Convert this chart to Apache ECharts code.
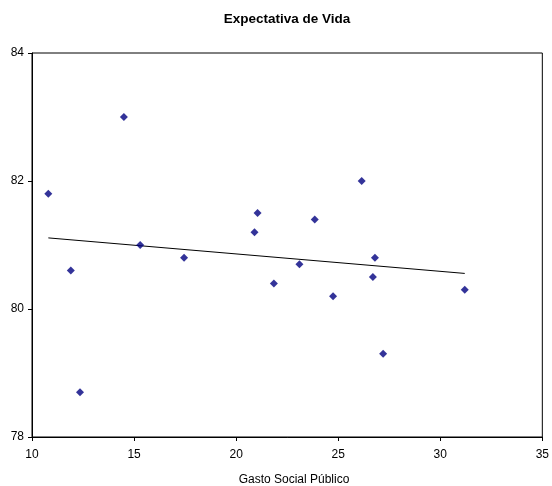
<!DOCTYPE html>
<html>
<head>
<meta charset="utf-8">
<script src="https://cdn.jsdelivr.net/npm/echarts@6/dist/echarts.min.js"></script>
<style>html,body{margin:0;padding:0;background:#fff}#c{width:552px;height:486px}</style>
</head>
<body>
<div id="c"></div>
<script>
var titleText = "Expectativa de Vida";
var xAxisName = "Gasto Social Público";
var gastoSocial = [10.8, 11.9, 12.35, 14.5, 15.3, 17.45, 20.9, 21.05, 21.85, 23.1, 23.85, 24.75, 26.15, 26.7, 26.8, 27.2, 31.2];
var expectativa = [81.8, 80.6, 78.7, 83.0, 81.0, 80.8, 81.2, 81.5, 80.4, 80.7, 81.4, 80.2, 82.0, 80.5, 80.8, 79.3, 80.3];
var xTicks = [10, 15, 20, 25, 30, 35];
var yTicks = [78, 80, 82, 84];

var pts = gastoSocial.map(function(x, i){ return [x, expectativa[i]]; });
// least-squares trendline computed from the data
var n = gastoSocial.length, mx = 0, my = 0;
for (var i = 0; i < n; i++) { mx += gastoSocial[i]; my += expectativa[i]; }
mx /= n; my /= n;
var sxy = 0, sxx = 0;
for (i = 0; i < n; i++) { sxy += (gastoSocial[i]-mx)*(expectativa[i]-my); sxx += (gastoSocial[i]-mx)*(gastoSocial[i]-mx); }
var slope = sxy / sxx, icpt = my - slope * mx;
var xmin = Math.min.apply(null, gastoSocial), xmax = Math.max.apply(null, gastoSocial);
var trend = [[xmin, icpt + slope*xmin], [xmax, icpt + slope*xmax]];

var chart = echarts.init(document.getElementById('c'), null, {renderer: 'canvas'});
var font = 'Liberation Sans, Arial, sans-serif';
chart.setOption({
  animation: false,
  backgroundColor: '#fff',
  title: [
    {text: titleText, left: 282, top: 7, textAlign: 'center',
     textStyle: {fontFamily: font, fontSize: 13.5, fontWeight: 'bold', color: '#000'}},
    {text: xAxisName, left: 289, top: 469, textAlign: 'center',
     textStyle: {fontFamily: font, fontSize: 12, fontWeight: 'normal', color: '#000'}}
  ],
  grid: {left: 32, right: 6, top: 53, bottom: 49, show: true, borderColor: '#000', borderWidth: 1, backgroundColor: '#fff'},
  xAxis: {
    type: 'value', min: xTicks[0], max: xTicks[xTicks.length-1], interval: 5,
    axisLine: {lineStyle: {color: '#000', width: 1}},
    axisTick: {show: true, length: 4, lineStyle: {color: '#000'}},
    axisLabel: {fontFamily: font, fontSize: 12, color: '#000', margin: 12},
    splitLine: {show: false}
  },
  yAxis: {
    type: 'value', min: yTicks[0], max: yTicks[yTicks.length-1], interval: 2,
    axisLine: {show: true, lineStyle: {color: '#000', width: 1}},
    axisTick: {show: true, length: 4, lineStyle: {color: '#000'}},
    axisLabel: {fontFamily: font, fontSize: 12, color: '#000', margin: 8},
    splitLine: {show: false}
  },
  series: [
    {type: 'scatter', data: pts, symbol: 'diamond', symbolSize: 8,
     itemStyle: {color: '#000080'}, z: 3},
    {type: 'line', data: trend, symbol: 'none', lineStyle: {color: '#000', width: 1}, z: 2}
  ]
});
</script>
</body>
</html>
